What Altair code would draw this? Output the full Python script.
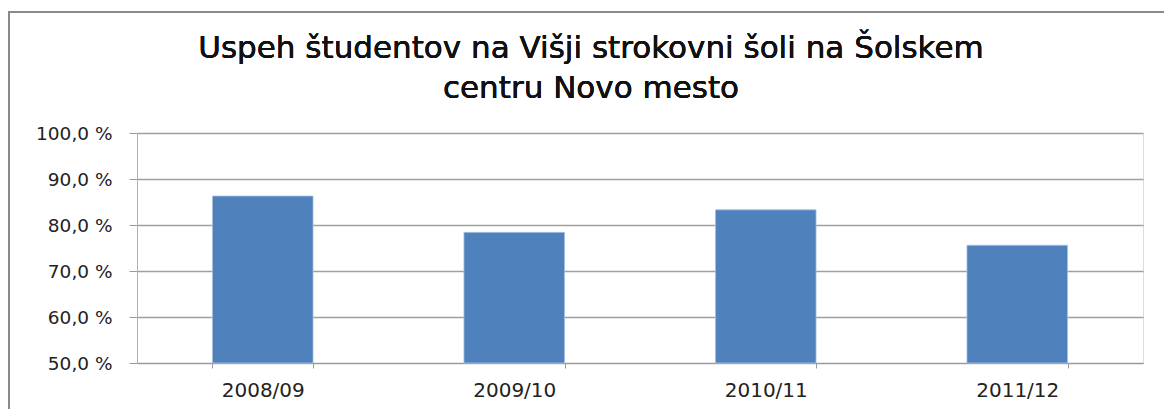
import altair as alt
import pandas as pd

years = ["2008/09", "2009/10", "2010/11", "2011/12"]
success = [86.3, 78.4, 83.3, 75.6]
title_lines = ["Uspeh študentov na Višji strokovni šoli na Šolskem", "centru Novo mesto"]

df = pd.DataFrame({"leto": years, "uspeh": success})

W, H = 1006, 230
PAD_L, PAD_T = 137, 133
FONT = "DejaVu Sans"

bars = alt.Chart(df).mark_bar(color="#4f81bd", stroke="#a9c3e3", strokeWidth=0.8).encode(
    x=alt.X("leto:N", sort=years, title=None,
            scale=alt.Scale(paddingInner=0.6, paddingOuter=0.3),
            axis=alt.Axis(labelAngle=0, labelFontSize=20, labelFont=FONT,
                          labelColor="#222222", tickBand="extent", tickSize=5,
                          tickColor="#9a9a9a", domainColor="#9a9a9a", labelPadding=12,
                          grid=False)),
    y=alt.Y("uspeh:Q", title=None,
            scale=alt.Scale(domain=[50, 100], zero=False, nice=False),
            axis=alt.Axis(values=[50, 60, 70, 80, 90, 100],
                          labelExpr="replace(format(datum.value, '.1f'), '.', ',') + ' %'",
                          labelFontSize=18.5, labelFont=FONT, labelColor="#222222",
                          tickSize=8, tickColor="#9a9a9a", domainColor="#b0b0b0",
                          labelPadding=17, gridColor="#a0a0a0", gridWidth=1.3)),
    y2=alt.datum(50),
)

frame = alt.Chart(df).mark_rect(fill=None, stroke="#8a8a8a", strokeWidth=2).encode(
    x=alt.value(9 - PAD_L), y=alt.value(12 - PAD_T),
    x2=alt.value(1200 - PAD_L), y2=alt.value(440 - PAD_T),
)

title = alt.Chart(df).mark_text(
    text=title_lines, font=FONT, fontSize=31, color="#111111",
    align="center", baseline="alphabetic", lineHeight=40,
).encode(x=alt.value(591 - PAD_L), y=alt.value(58 - PAD_T))

chart = alt.layer(frame, bars, title).properties(
    width=W, height=H,
    padding={"left": PAD_L, "top": PAD_T, "right": 1164 - PAD_L - W, "bottom": 409 - PAD_T - H},
    autosize=alt.AutoSizeParams(type="none"),
).configure_view(stroke=None).configure(background="white")

chart.save("out.html", embed_options={"renderer": "svg", "actions": False})
